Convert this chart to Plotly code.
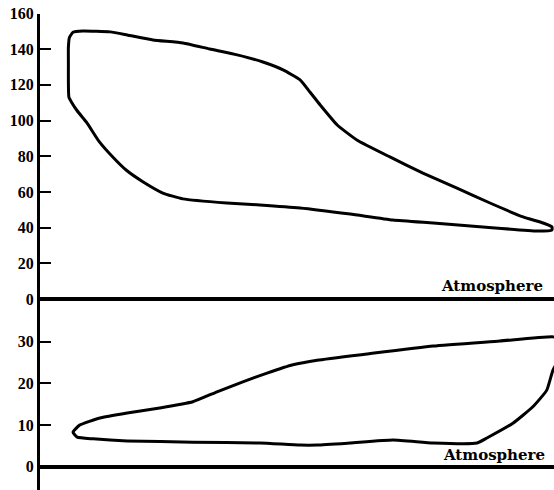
import plotly.graph_objects as go

# Indicator card: upper loop (pressure, lb per sq in) and lower loop (second cylinder)
# x is the piston stroke in per cent of full stroke.

high_x = [6.0, 5.9, 5.9, 5.9, 6.1, 6.8, 8.7, 14.0, 17.3, 22.3, 28.1, 33.3, 38.6, 43.6,
          47.5, 50.8, 52.7, 54.7, 58.0, 61.8, 68.2, 74.6, 81.2, 87.6, 94.0, 97.9,
          99.6, 99.6, 96.7, 86.2, 76.6, 68.8, 60.5, 50.8, 43.0, 36.6, 28.1, 24.2,
          20.4, 17.2, 14.5, 11.8, 9.5, 7.6, 6.6, 6.0]
high_p = [113.2, 122.0, 132.0, 141.0, 146.5, 149.5, 150.2, 149.7, 148.0, 145.2, 143.5,
          140.1, 136.8, 132.8, 128.4, 122.8, 116.0, 108.7, 97.5, 89.1, 79.6, 70.6,
          62.2, 53.8, 46.0, 42.6, 40.4, 38.7, 38.1, 40.4, 42.6, 44.3, 47.6, 51.0,
          52.7, 53.8, 56.1, 59.4, 65.6, 72.0, 79.6, 88.5, 98.7, 105.5, 109.9, 113.2]

low_x = [6.8, 8.1, 12.0, 17.3, 23.6, 30.0, 34.7, 39.7, 44.4, 49.4, 54.1, 63.8,
         76.6, 89.5, 99.8, 102.3, 103.1, 101.2, 99.8, 98.6, 95.9, 92.1, 87.0,
         85.1, 76.6, 68.8, 60.5, 54.1, 50.8, 43.0, 30.0, 17.3, 10.7, 7.6, 6.8]
low_p = [8.3, 10.0, 11.7, 12.9, 14.1, 15.6, 18.0, 20.4, 22.5, 24.5, 25.6, 27.1,
         29.0, 30.2, 31.2, 30.4, 27.5, 26.1, 23.2, 18.4, 14.4, 10.5, 6.9, 5.7,
         5.7, 6.4, 5.7, 5.2, 5.2, 5.7, 5.9, 6.2, 6.7, 7.1, 8.3]

high_ticks = [0, 20, 40, 60, 80, 100, 120, 140, 160]
low_ticks = [0, 10, 20, 30]
atm_label = "Atmosphere"

ink = "#000000"
tick_font = dict(family="Liberation Serif", size=16, color=ink, weight="bold")
label_font = dict(family="DejaVu Serif", size=15, color=ink, weight="bold")

line_style = dict(color=ink, width=3, shape="spline", smoothing=0.45)

fig = go.Figure()
fig.add_trace(go.Scatter(x=high_x, y=high_p, mode="lines", xaxis="x", yaxis="y",
                         line=line_style, hoverinfo="skip", showlegend=False))
fig.add_trace(go.Scatter(x=low_x, y=low_p, mode="lines", xaxis="x2", yaxis="y2",
                         line=line_style, hoverinfo="skip", showlegend=False))

H = 490.0
axis_common = dict(showgrid=False, showline=True, linecolor=ink, linewidth=3,
                   ticks="inside", ticklen=11, tickwidth=2, tickcolor=ink,
                   tickfont=tick_font, zeroline=True, zerolinecolor=ink,
                   zerolinewidth=4, fixedrange=True, automargin=False)

fig.update_layout(
    width=554, height=490,
    autosize=False,
    margin=dict(l=40, r=0, t=0, b=0, pad=0, autoexpand=False),
    paper_bgcolor="white", plot_bgcolor="white",
    xaxis=dict(domain=[0, 1], range=[0.4, 100], visible=False, anchor="y",
               automargin=False),
    xaxis2=dict(domain=[0, 1], range=[0.4, 100], visible=False, anchor="y2",
                matches="x", automargin=False),
    yaxis=dict(domain=[1 - 299 / H, 1 - 13.5 / H], range=[0, 160],
               tickvals=high_ticks, anchor="x", **axis_common),
    yaxis2=dict(domain=[0, 1 - 299 / H], range=[-5.6, 40.3],
                tickvals=low_ticks, anchor="x2", **axis_common),
    annotations=[
        dict(text=atm_label, x=98.3, y=7.3, xref="x", yref="y",
             xanchor="right", yanchor="middle", showarrow=False, font=label_font),
        dict(text=atm_label, x=98.6, y=2.8, xref="x2", yref="y2",
             xanchor="right", yanchor="middle", showarrow=False, font=label_font),
    ],
)

fig.write_html("out.html")
